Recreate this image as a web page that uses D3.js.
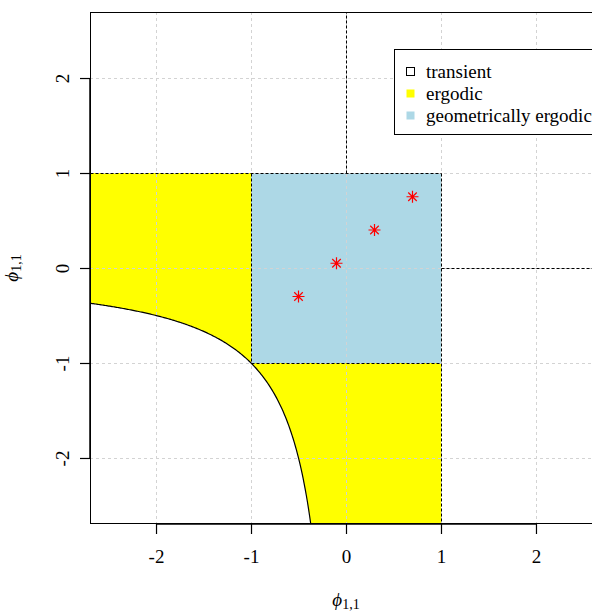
<!DOCTYPE html>
<html>
<head>
<meta charset="utf-8">
<script src="https://cdn.jsdelivr.net/npm/d3@7"></script>
<style>
  body { margin: 0; background: #fff; }
  svg text { font-family: "Liberation Serif", "Times New Roman", Times, "DejaVu Serif", "Noto Serif", FreeSerif, Georgia, serif !important; }
</style>
</head>
<body>
<script>
// region boundaries and simulated coefficient points
const lim = 2.695;
const xTicks = [-2, -1, 0, 1, 2];
const yTicks = [-2, -1, 0, 1, 2];
const pointsX = [-0.5, -0.1, 0.3, 0.7];
const pointsY = [-0.3, 0.05, 0.4, 0.75];
const legendLabels = ['transient', 'ergodic', 'geometrically ergodic'];
const legendFills = ['none', '#ffff00', '#add8e6'];

const margin = { top: 12, right: 0, bottom: 87, left: 90 };
const width = 512;
const height = 512;
const fontSize = 19;

const svg = d3.select('body').append('svg')
    .attr('width', 592)
    .attr('height', 611)
  .append('g')
    .attr('transform', `translate(${margin.left}, ${margin.top})`);

const x = d3.scaleLinear().domain([-lim, lim]).range([0, width]);
const y = d3.scaleLinear().domain([-lim, lim]).range([height, 0]);

// hyperbola phi1 * phi2 = 1 in the third quadrant
const hyp = d3.range(0, 201).map(i => {
  const xv = -lim + i * (lim - 1 / lim) / 200;
  return [xv, 1 / xv];
});

const line = d3.line().x(d => x(d[0])).y(d => y(d[1]));
const cx = v => Math.round(x(v)) + 0.5;
const cy = v => Math.round(y(v)) + 0.5;

// ergodic area
const yellow = [[-lim, 1], [1, 1], [1, -lim]].concat(hyp.slice().reverse());
svg.append('path')
  .attr('d', line(yellow) + 'Z')
  .attr('fill', '#ffff00');

// geometrically ergodic square
svg.append('rect')
  .attr('x', x(-1)).attr('y', y(1))
  .attr('width', x(1) - x(-1)).attr('height', y(-1) - y(1))
  .attr('fill', '#add8e6');

// grid
svg.append('g').selectAll('line').data(xTicks).join('line')
  .attr('x1', d => cx(d)).attr('x2', d => cx(d))
  .attr('y1', 0).attr('y2', height)
  .attr('stroke', '#d3d3d3').attr('stroke-dasharray', '3,3');
svg.append('g').selectAll('line').data(yTicks).join('line')
  .attr('y1', d => cy(d)).attr('y2', d => cy(d))
  .attr('x1', 0).attr('x2', width)
  .attr('stroke', '#d3d3d3').attr('stroke-dasharray', '3,3');

// dashed region borders
const dashed = [
  [[-lim, 1], [1, 1]],
  [[1, 1], [1, -lim]],
  [[-1, 1], [-1, -1]],
  [[-1, -1], [1, -1]],
  [[0, 1], [0, lim]],
  [[1, 0], [lim, 0]]
];
svg.append('g').selectAll('path').data(dashed).join('path')
  .attr('d', d => `M${cx(d[0][0])},${cy(d[0][1])}L${cx(d[1][0])},${cy(d[1][1])}`)
  .attr('fill', 'none')
  .attr('stroke', '#000')
  .attr('stroke-width', 1)
  .attr('stroke-dasharray', '3,2');

svg.append('path')
  .attr('d', line(hyp))
  .attr('fill', 'none')
  .attr('stroke', '#000')
  .attr('stroke-width', 1.2);

// asterisks
const pts = pointsX.map((v, i) => [v, pointsY[i]]);
const star = svg.append('g').attr('stroke', '#ff0000').attr('stroke-width', 1.2);
pts.forEach(p => {
  const px = x(p[0]), py = y(p[1]), r = 6, q = r * 0.71;
  star.append('path')
    .attr('d', `M${px - r},${py}H${px + r}M${px},${py - r}V${py + r}` +
      `M${px - q},${py - q}L${px + q},${py + q}M${px - q},${py + q}L${px + q},${py - q}`);
});

// box
svg.append('rect')
  .attr('x', 0.5).attr('y', 0.5)
  .attr('width', width).attr('height', height - 1)
  .attr('fill', 'none').attr('stroke', '#000').attr('stroke-width', 1);

const minus = d => d < 0 ? '-' + Math.abs(d) : d;

// axes
const xAxis = d3.axisBottom(x).tickValues(xTicks).tickSize(10).tickSizeOuter(0);
svg.append('g')
  .attr('transform', `translate(0, ${height})`)
  .call(xAxis)
  .call(g => g.select('.domain').attr('d', `M${x(-2)},0H${x(2)}`).attr('stroke-width', 1.5))
  .call(g => g.selectAll('.tick line').attr('stroke-width', 1.2))
  .call(g => g.selectAll('text').attr('dy', 0).attr('y', 39).attr('font-size', fontSize)
    .attr('fill', '#000').text(minus));

const yAxis = d3.axisLeft(y).tickValues(yTicks).tickSize(10).tickSizeOuter(0);
svg.append('g')
  .call(yAxis)
  .call(g => g.select('.domain').attr('d', `M0,${y(2)}V${y(-2)}`).attr('stroke-width', 1.5))
  .call(g => g.selectAll('.tick line').attr('stroke-width', 1.2))
  .call(g => g.selectAll('text')
    .attr('x', null).attr('dy', null)
    .attr('transform', 'translate(-28,0) rotate(-90)')
    .attr('text-anchor', 'middle')
    .attr('dominant-baseline', 'central')
    .attr('font-size', fontSize)
    .attr('fill', '#000').text(minus));

// axis titles
const xt = svg.append('text')
  .attr('x', x(0)).attr('y', 594)
  .attr('text-anchor', 'middle').attr('font-size', fontSize)
  .attr('font-style', 'italic');
xt.append('tspan').text('ϕ');
xt.append('tspan').attr('font-size', 14).attr('font-style', 'normal').attr('dy', 3).text('1,1');

const yt = svg.append('text')
  .attr('transform', `translate(${-72}, ${y(0)}) rotate(-90)`)
  .attr('text-anchor', 'middle').attr('font-size', fontSize)
  .attr('font-style', 'italic');
yt.append('tspan').text('ϕ');
yt.append('tspan').attr('font-size', 14).attr('font-style', 'normal').attr('dy', 3).text('1,1');

// legend
const lg = svg.append('g').attr('transform', `translate(${394.5 - margin.left}, ${49.5 - margin.top})`);
lg.append('rect')
  .attr('width', 220).attr('height', 85)
  .attr('fill', '#fff').attr('stroke', '#000').attr('stroke-width', 1);
legendLabels.forEach((lab, i) => {
  const row = lg.append('g').attr('transform', `translate(0, ${22 + i * 22})`);
  row.append('rect')
    .attr('x', 12).attr('y', -4).attr('width', 8).attr('height', 8)
    .attr('fill', legendFills[i] === 'none' ? 'none' : legendFills[i])
    .attr('stroke', legendFills[i] === 'none' ? '#000' : 'none');
  row.append('text')
    .attr('x', 31.5).attr('y', 0).attr('dy', '0.32em')
    .attr('font-size', fontSize)
    .text(lab);
});
</script>
</body>
</html>
